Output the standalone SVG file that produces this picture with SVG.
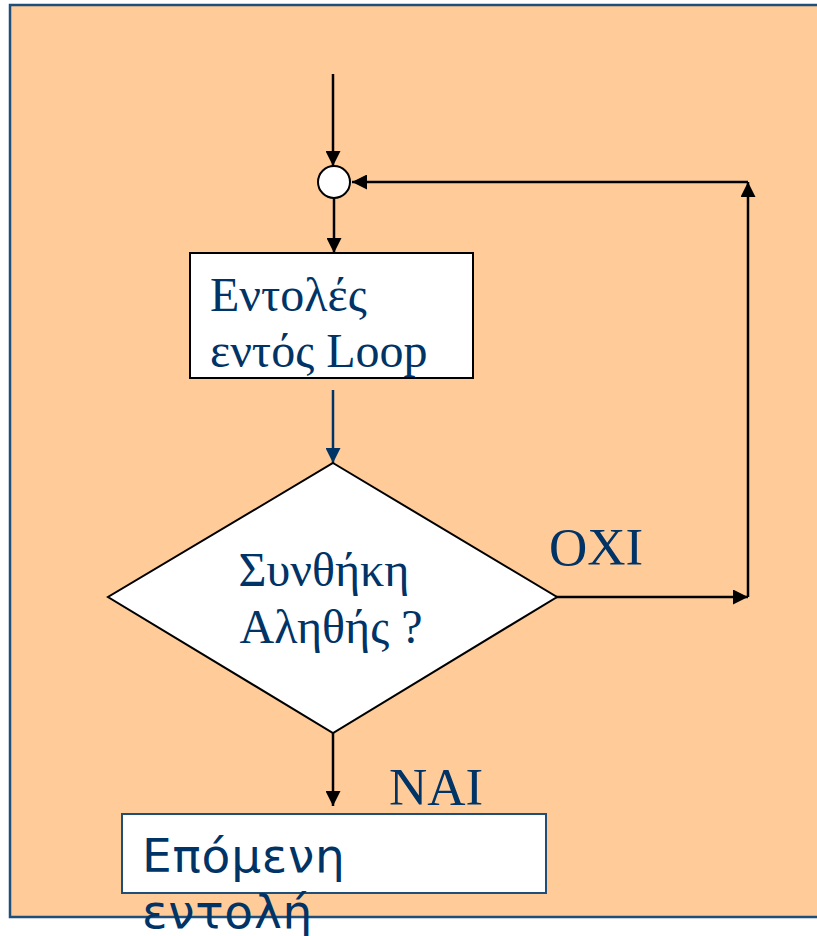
<svg xmlns="http://www.w3.org/2000/svg" width="817" height="936" viewBox="0 0 817 936">
  <style>
    .serif { font-family: "Liberation Serif", "Times New Roman", serif; fill: #003366; }
    .sans { font-family: "DejaVu Sans", Verdana, sans-serif; fill: #003366; }
    .shape { fill: #ffffff; stroke: #000000; stroke-width: 2; }
    .wire { fill: none; stroke: #000000; stroke-width: 2.5; }
    .wire-blue { fill: none; stroke: #003366; stroke-width: 2.5; }
  </style>
  <defs>
    <marker id="arrow" viewBox="0 0 10 10" refX="10" refY="5" markerWidth="6" markerHeight="6" markerUnits="strokeWidth" orient="auto">
      <path d="M0,0 L10,5 L0,10 z" fill="#000000"/>
    </marker>
    <marker id="arrow-blue" viewBox="0 0 10 10" refX="10" refY="5" markerWidth="6" markerHeight="6" markerUnits="strokeWidth" orient="auto">
      <path d="M0,0 L10,5 L0,10 z" fill="#003366"/>
    </marker>
  </defs>

  <!-- page -->
  <rect x="0" y="0" width="817" height="936" fill="#ffffff"/>
  <rect x="10" y="5" width="820" height="912" fill="#ffcc99" stroke="#1f4e79" stroke-width="2.5"/>

  <!-- connectors -->
  <g id="connectors">
    <line class="wire" x1="333" y1="74" x2="333" y2="166" marker-end="url(#arrow)"/>
    <line class="wire" x1="334" y1="198" x2="334" y2="253" marker-end="url(#arrow)"/>
    <line class="wire-blue" x1="333" y1="390" x2="333" y2="463" marker-end="url(#arrow-blue)"/>
    <line class="wire" x1="556" y1="597" x2="748" y2="597" marker-end="url(#arrow)"/>
    <line class="wire" x1="748" y1="597" x2="748" y2="182" marker-end="url(#arrow)"/>
    <line class="wire" x1="748" y1="182" x2="352" y2="182" marker-end="url(#arrow)"/>
    <line class="wire" x1="333" y1="733" x2="333" y2="806" marker-end="url(#arrow)"/>
  </g>

  <!-- junction -->
  <g id="junction">
    <circle class="shape" cx="334" cy="182" r="16"/>
  </g>

  <!-- loop body -->
  <g id="loop-body">
    <rect class="shape" x="190" y="253" width="283" height="125"/>
    <text class="serif" x="210" y="311" font-size="48">Εντολές</text>
    <text class="serif" x="210" y="367" font-size="48">εντός Loop</text>
  </g>

  <!-- condition -->
  <g id="condition">
    <polygon class="shape" points="333,463 557,597 333,733 108,597"/>
    <text class="serif" x="324" y="586" font-size="48" text-anchor="middle">Συνθήκη</text>
    <text class="serif" x="331" y="643" font-size="48" text-anchor="middle">Αληθής ?</text>
  </g>

  <!-- branch labels -->
  <g id="label-no">
    <text class="serif" x="549" y="565" font-size="53">ΟΧΙ</text>
  </g>
  <g id="label-yes">
    <text class="serif" x="389" y="805" font-size="53">ΝΑΙ</text>
  </g>

  <!-- next statement -->
  <g id="next-statement">
    <rect x="122" y="814" width="424" height="79" fill="#ffffff" stroke="#1f4e79" stroke-width="2"/>
    <text class="sans" x="142" y="872" font-size="47" letter-spacing="0.8">Επόμενη</text>
    <text class="sans" x="142" y="928" font-size="47" letter-spacing="0.8">εντολή</text>
  </g>
</svg>
